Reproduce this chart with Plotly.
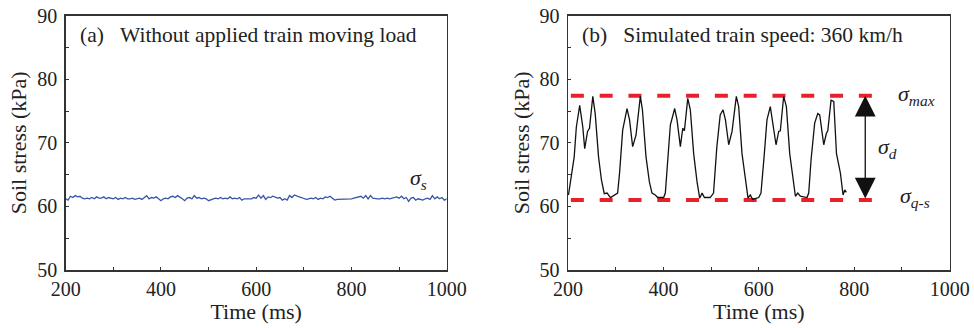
import plotly.graph_objects as go

# ---------------- data ----------------
# (a) without applied train moving load: time (ms) and soil stress (kPa)
time_a = list(range(200, 1001, 5))
stress_a = [
    61.2, 61.0, 61.6, 61.4, 61.7, 61.5, 61.6, 61.3, 61.2, 61.3,
    61.2, 61.4, 61.2, 61.5, 61.3, 61.3, 61.5, 61.2, 61.4, 61.3,
    61.2, 61.4, 61.1, 61.3, 61.2, 61.4, 61.2, 61.2, 61.3, 61.1,
    61.2, 61.3, 61.1, 61.4, 61.7, 61.2, 61.4, 61.3, 61.5, 61.2,
    60.9, 61.2, 61.3, 61.2, 61.5, 61.6, 61.4, 61.7, 61.5, 61.2,
    60.9, 61.3, 61.4, 61.2, 61.7, 61.3, 61.4, 61.2, 61.3, 61.2,
    60.9, 61.1, 61.2, 61.3, 61.2, 61.4, 61.2, 61.3, 61.2, 61.5,
    61.2, 61.3, 61.2, 61.4, 61.0, 61.2, 61.2, 61.3, 61.2, 61.4,
    61.3, 61.8, 61.3, 61.7, 61.1, 61.5, 61.4, 61.6, 61.5, 61.3,
    61.4, 61.0, 61.2, 61.0, 61.7, 61.4, 61.8, 61.6, 61.5, 61.4,
    61.3, 61.1, 61.2, 61.3, 61.2, 61.4, 61.1, 61.3, 61.2, 61.5,
    61.4, 61.6, 61.3, 61.0, 61.1, 61.1, 61.1, 61.2, 61.1, 61.2,
    61.2, 61.3, 61.4, 61.4, 61.6, 61.3, 61.7, 61.2, 61.7, 61.3,
    61.2, 61.2, 61.2, 61.3, 61.2, 61.3, 61.2, 61.3, 61.4, 61.5,
    61.3, 61.6, 61.2, 61.4, 60.8, 61.3, 61.4, 61.0, 61.2, 61.1,
    61.0, 61.2, 61.3, 61.1, 61.7, 61.2, 61.5, 61.2, 61.4, 61.0,
    61.2,
]

# (b) simulated train speed 360 km/h
time_b = [
    201, 213, 217.5, 224.5, 231, 235, 241, 245, 252, 257, 264, 270, 276, 282, 289, 299,
    304, 308, 314.6, 323.7, 329, 335.5, 342.5, 351.6, 356, 363.5, 370.5, 376, 383, 388,
    400.5, 404, 409, 414.5, 423.6, 428.5, 435.5, 440.5, 444, 451, 456.4, 463.4, 470.4,
    476, 481, 486, 498, 505, 512, 519, 524.9, 530, 536.8, 543.8, 552.8, 557.7, 564.7,
    571.7, 577.3, 582, 587, 599.7, 604.5, 611.5, 617, 624, 629.6, 636, 641.6, 645, 652,
    657.7, 664.7, 671.7, 676.6, 681.5, 687, 701, 704.5, 709.4, 717, 723.5, 727.6, 736,
    741.6, 744.5, 751.3, 757, 762.7, 771, 776.5, 780, 783.4,
]
stress_b = [
    61.8, 67.8, 72.5, 75.9, 72.5, 69.1, 71.8, 72.3, 77.3, 74.6, 67.8, 64.2, 62.0, 62.1, 61.4, 61.8,
    62.1, 65.2, 72.0, 75.4, 73.6, 69.4, 71.2, 77.3, 75.2, 67.8, 63.9, 62.1, 61.8, 61.4,
    61.4, 62.1, 67.3, 72.8, 75.4, 73.6, 69.4, 72.3, 71.9, 77.0, 75.2, 68.3, 63.9,
    61.3, 62.1, 61.4, 61.4, 62.1, 69.4, 74.4, 75.2, 73.6, 69.7, 71.8, 77.3, 75.7, 68.3,
    64.2, 61.3, 61.8, 61.1, 61.4, 62.1, 68.3, 73.6, 75.7, 73.1, 69.7, 71.8, 71.9, 77.3,
    75.7, 68.3, 64.2, 61.6, 62.1, 61.6, 61.4, 62.1, 67.3, 73.1, 74.6, 74.4, 69.7,
    71.5, 71.9, 76.7, 76.5, 68.3, 65.2, 61.8, 62.6, 62.2,
]

sigma_max = 77.4
sigma_qs = 61.0
ref_line_x = [206, 870]
arrow_x = 823

x_ticks = [200, 400, 600, 800, 1000]
y_ticks = [50, 60, 70, 80, 90]

# ---------------- figure ----------------
FONT = "Liberation Serif"
W, H = 974, 328
TXT = "#222222"

fig = go.Figure()

fig.add_trace(go.Scatter(x=time_a, y=stress_a, mode="lines",
                         line=dict(color="#3a54a6", width=1.3),
                         xaxis="x", yaxis="y", showlegend=False))

for yv in (sigma_max, sigma_qs):
    fig.add_trace(go.Scatter(x=ref_line_x, y=[yv, yv], mode="lines",
                             line=dict(color="#e8202a", width=4, dash="13px,15.8px"),
                             xaxis="x2", yaxis="y2", showlegend=False))

fig.add_trace(go.Scatter(x=time_b, y=stress_b, mode="lines",
                         line=dict(color="#111111", width=1.3),
                         xaxis="x2", yaxis="y2", showlegend=False))

top_px, bot_px = 15.7, 270
ydom = [(H - bot_px) / H, (H - top_px) / H]

axis_common = dict(
    showline=True, linecolor="#333333", linewidth=1.5, mirror=True,
    ticks="inside", ticklen=3, tickwidth=1, tickcolor="#333333",
    showgrid=False, zeroline=False, automargin=False,
    tickfont=dict(family=FONT, size=20, color=TXT),
)

xax = dict(axis_common, range=[200, 1000], tickvals=x_ticks,
           minor=dict(ticks="inside", ticklen=3, tickwidth=1, tickcolor="#333333", dtick=100, tick0=200),
           title=dict(text="Time (ms)", font=dict(family=FONT, size=22, color=TXT), standoff=2))
yax = dict(axis_common, range=[50, 90], tickvals=y_ticks, ticklabelstandoff=3,
           minor=dict(ticks="inside", ticklen=3, tickwidth=1, tickcolor="#333333", dtick=5, tick0=50),
           title=dict(text="Soil stress (kPa)", font=dict(family=FONT, size=22, color=TXT), standoff=4))

fig.update_layout(
    width=W, height=H,
    margin=dict(l=0, r=0, t=0, b=0, autoexpand=False),
    paper_bgcolor="white", plot_bgcolor="white",
    hovermode=False,
    xaxis=dict(xax, domain=[65.7 / W, 446.7 / W], anchor="y"),
    yaxis=dict(yax, domain=ydom, anchor="x"),
    xaxis2=dict(xax, domain=[568 / W, 949.7 / W], anchor="y2"),
    yaxis2=dict(yax, domain=ydom, anchor="x2"),
)

nb = "\u00a0"
anns = [
    dict(text="(a)" + nb * 3 + "Without applied train moving load", xref="paper", yref="paper",
         x=78 / W, y=1 - 35 / H, xanchor="left", yanchor="middle", showarrow=False,
         font=dict(family=FONT, size=21.5, color=TXT)),
    dict(text="(b)" + nb * 3 + "Simulated train speed: 360 km/h", xref="paper", yref="paper",
         x=580 / W, y=1 - 35 / H, xanchor="left", yanchor="middle", showarrow=False,
         font=dict(family=FONT, size=21.5, color=TXT)),
    dict(text="<i>σ<sub>s</sub></i>", xref="x", yref="y", x=918, y=64.3,
         xanchor="left", yanchor="middle", showarrow=False,
         font=dict(family=FONT, size=22, color=TXT)),
    dict(text="<i>σ<sub>max</sub></i>", xref="x2", yref="y2", x=888, y=77.6,
         xanchor="left", yanchor="middle", showarrow=False,
         font=dict(family=FONT, size=22, color=TXT)),
    dict(text="<i>σ<sub>d</sub></i>", xref="x2", yref="y2", x=846, y=69.2,
         xanchor="left", yanchor="middle", showarrow=False,
         font=dict(family=FONT, size=22, color=TXT)),
    dict(text="<i>σ<sub>q-s</sub></i>", xref="x2", yref="y2", x=891, y=61.5,
         xanchor="left", yanchor="middle", showarrow=False,
         font=dict(family=FONT, size=22, color=TXT)),
    dict(text="", xref="x2", yref="y2", x=arrow_x, y=sigma_max,
         axref="x2", ayref="y2", ax=arrow_x, ay=sigma_qs,
         showarrow=True, arrowhead=2, startarrowhead=2, arrowside="end+start",
         arrowsize=3.2, startarrowsize=3.2, arrowwidth=1.3, arrowcolor="#111111",
         standoff=0, startstandoff=0),
]
fig.update_layout(annotations=anns)

fig.write_html("out.html",
               config={"displayModeBar": False, "staticPlot": True},
               post_script="document.body.style.margin='0';document.body.style.overflow='hidden';")
